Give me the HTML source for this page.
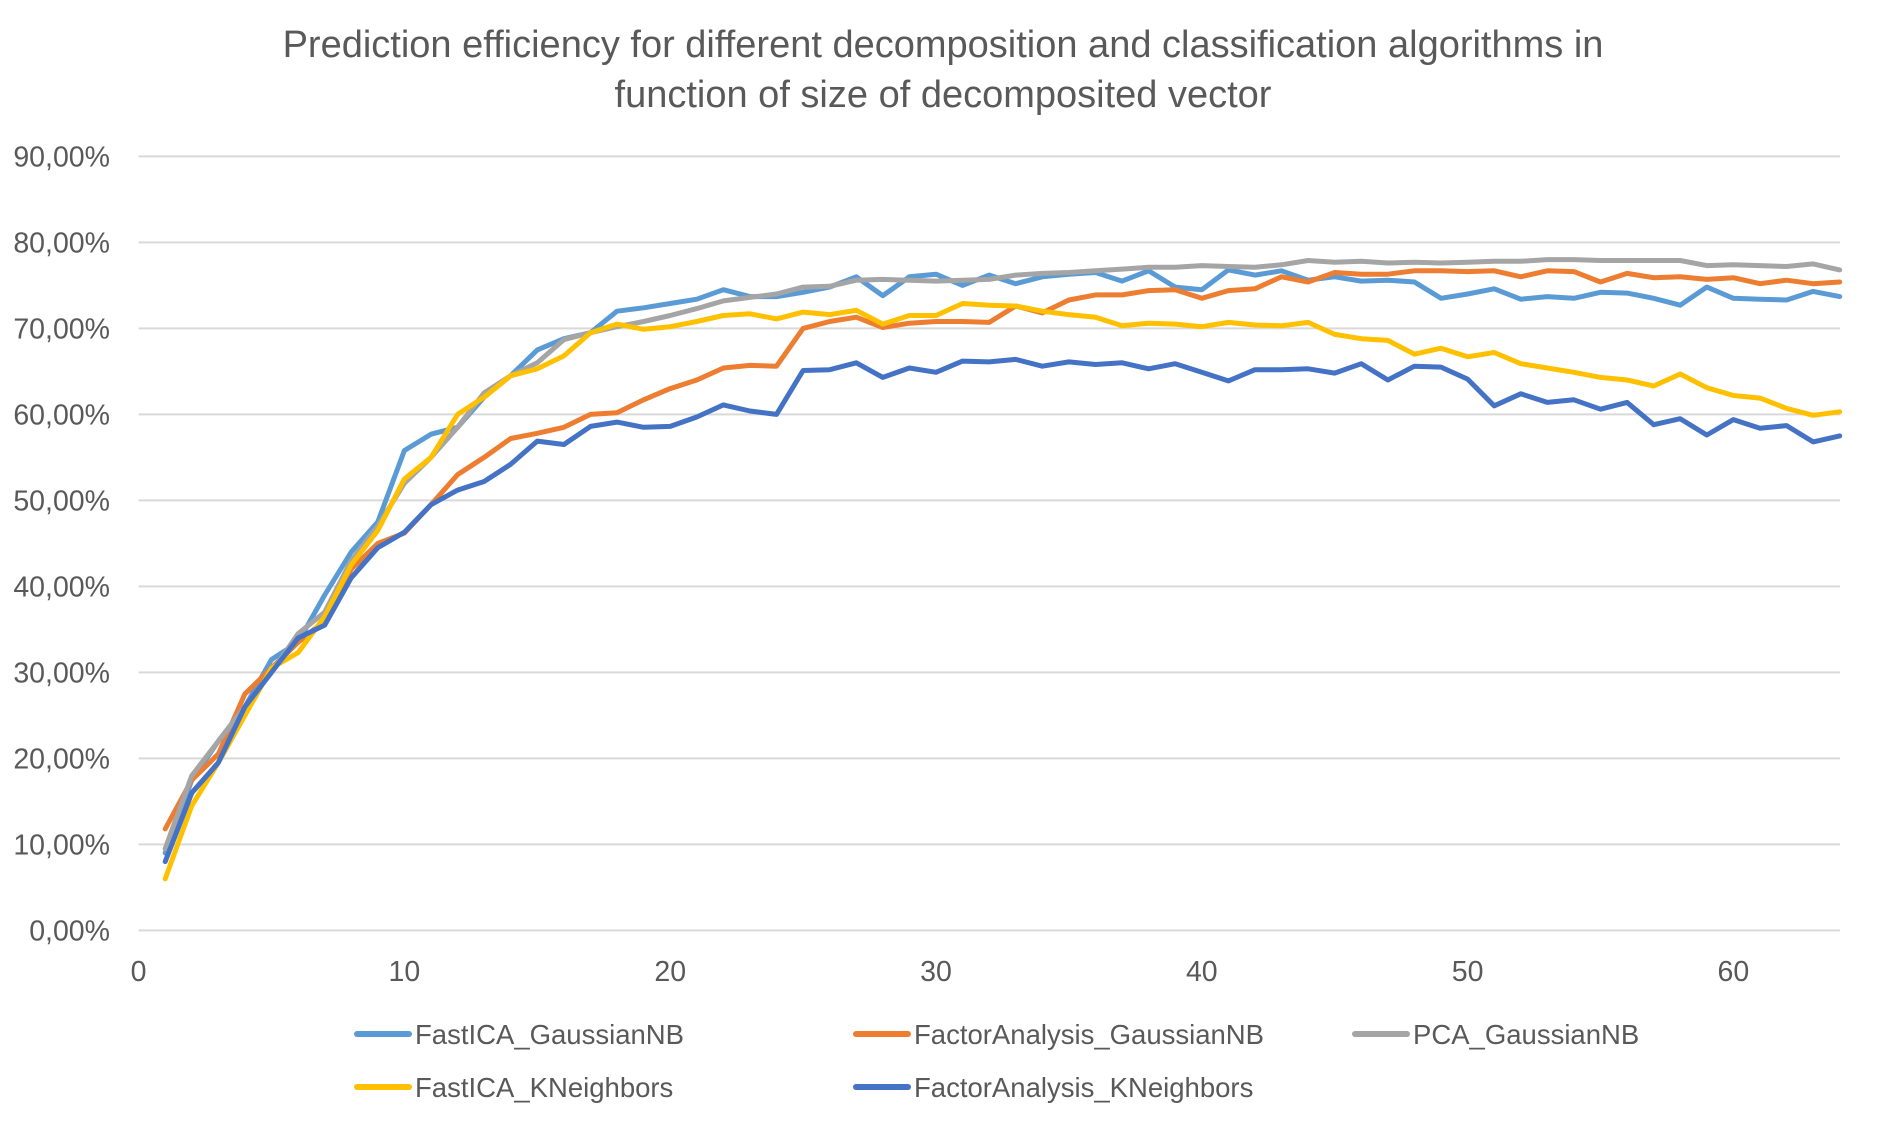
<!DOCTYPE html>
<html><head><meta charset="utf-8"><style>
html,body{margin:0;padding:0;background:#fff;}
svg{display:block;font-family:"Liberation Sans",sans-serif;}
</style></head><body>
<svg id="chart" width="1883" height="1126" viewBox="0 0 1883 1126" xmlns="http://www.w3.org/2000/svg">
<rect x="0" y="0" width="1883" height="1126" fill="#fff"/>
<text x="943" y="57" text-anchor="middle" font-size="38" fill="#595959">Prediction efficiency for different decomposition and classification algorithms in</text>
<text x="943" y="107" text-anchor="middle" font-size="38" fill="#595959">function of size of decomposited vector</text>
<g id="grid"></g>
<g id="yticks"></g>
<g id="xticks"></g>
<g id="series"></g>
<g id="legend"></g>
</svg>
<script>
const xTicks=[0,10,20,30,40,50,60];
const yTicks=[0,10,20,30,40,50,60,70,80,90];
const seriesNames=["FastICA_GaussianNB","FactorAnalysis_GaussianNB","PCA_GaussianNB","FastICA_KNeighbors","FactorAnalysis_KNeighbors"];
const fastIcaGnb=[9,17.5,22,26,31.5,33.5,39,44,47.5,55.8,57.7,58.5,62,64.5,67.5,68.8,69.5,72,72.4,72.9,73.4,74.5,73.7,73.7,74.2,74.8,76,73.8,76,76.3,75,76.2,75.2,76,76.3,76.5,75.5,76.7,74.8,74.5,76.8,76.2,76.7,75.6,76,75.5,75.6,75.4,73.5,74,74.6,73.4,73.7,73.5,74.2,74.1,73.5,72.7,74.8,73.5,73.4,73.3,74.3,73.7];
const faGnb=[11.8,17.5,20.5,27.5,30.5,33.5,36,42,45,46.2,49.5,53,55,57.2,57.8,58.5,60,60.2,61.7,63,64,65.4,65.7,65.6,70,70.8,71.3,70.1,70.6,70.8,70.8,70.7,72.6,71.8,73.3,73.9,73.9,74.4,74.5,73.5,74.4,74.6,76,75.4,76.5,76.3,76.3,76.7,76.7,76.6,76.7,76,76.7,76.6,75.4,76.4,75.9,76,75.7,75.9,75.2,75.6,75.2,75.4];
const pcaGnb=[9.5,18,22,26,30,34.5,37,43,47,52,55,58.5,62.5,64.5,66,68.7,69.5,70.2,70.8,71.5,72.3,73.2,73.6,74,74.8,74.9,75.6,75.7,75.6,75.5,75.6,75.7,76.2,76.4,76.5,76.7,76.9,77.1,77.1,77.3,77.2,77.1,77.4,77.9,77.7,77.8,77.6,77.7,77.6,77.7,77.8,77.8,78,78,77.9,77.9,77.9,77.9,77.3,77.4,77.3,77.2,77.5,76.8];
const fastIcaKn=[6,14.5,19.5,25,30.5,32.3,36.5,42.5,46.5,52.5,55,60,62,64.5,65.3,66.8,69.5,70.5,69.9,70.2,70.8,71.5,71.7,71.1,71.9,71.6,72.1,70.5,71.5,71.5,72.9,72.7,72.6,72,71.6,71.3,70.3,70.6,70.5,70.2,70.7,70.4,70.3,70.7,69.3,68.8,68.6,67,67.7,66.7,67.2,65.9,65.4,64.9,64.3,64,63.3,64.7,63.1,62.2,61.9,60.7,59.9,60.3];
const faKn=[8,16,19.5,26,30,34,35.5,41,44.5,46.3,49.5,51.2,52.2,54.2,56.9,56.5,58.6,59.1,58.5,58.6,59.7,61.1,60.4,60,65.1,65.2,66,64.3,65.4,64.9,66.2,66.1,66.4,65.6,66.1,65.8,66,65.3,65.9,64.9,63.9,65.2,65.2,65.3,64.8,65.9,64,65.6,65.5,64.1,61,62.4,61.4,61.7,60.6,61.4,58.8,59.5,57.6,59.4,58.4,58.7,56.8,57.5];
const seriesColors=["#5B9BD5","#ED7D31","#A5A5A5","#FFC000","#4472C4"];
const allSeries=[fastIcaGnb,faGnb,pcaGnb,fastIcaKn,faKn];

const NS="http://www.w3.org/2000/svg";
const X0=138.6,XPX=26.58,Y0=930.4,YPX=8.6,XR=1840;
function sx(v){return X0+v*XPX;}
function sy(v){return Y0-v*YPX;}
function mk(tag,attrs,parent){const e=document.createElementNS(NS,tag);for(const k in attrs)e.setAttribute(k,attrs[k]);parent.appendChild(e);return e;}

const grid=document.getElementById('grid');
const yt=document.getElementById('yticks');
yTicks.forEach(v=>{
  const l=mk('line',{x1:X0,x2:XR,y1:sy(v),y2:sy(v),stroke:'#D9D9D9','stroke-width':2},grid);
  
  
  const t=mk('text',{x:110,y:sy(v)+10,'text-anchor':'end','font-size':28.5,fill:'#595959'},yt);
  t.textContent=v.toFixed(2).replace('.',',')+'%';
  
  
});
const xt=document.getElementById('xticks');
xTicks.forEach(v=>{
  const t=mk('text',{x:sx(v),y:981,'text-anchor':'middle','font-size':28.5,fill:'#595959'},xt);
  t.textContent=String(v);
  
  
});
const sg=document.getElementById('series');
allSeries.forEach((arr,si)=>{
  const pts=arr.map((v,i)=>sx(i+1).toFixed(1)+','+sy(v).toFixed(1)).join(' ');
  const p=mk('polyline',{points:pts,fill:'none',stroke:seriesColors[si],'stroke-width':5,'stroke-linejoin':'round','stroke-linecap':'round'},sg);
  
  
});
const lg=document.getElementById('legend');
const lx=[357,856,1355],ly=[1034,1087];
seriesNames.forEach((n,i)=>{
  const x=lx[i%3],y=ly[Math.floor(i/3)];
  const g=mk('g',{},lg);
  
  
  mk('line',{x1:x,x2:x+52,y1:y,y2:y,stroke:seriesColors[i],'stroke-width':6,'stroke-linecap':'round'},g);
  const t=mk('text',{x:x+58,y:y+10,'font-size':27.5,fill:'#595959'},g);
  t.textContent=n;
});
</script>
</body></html>
